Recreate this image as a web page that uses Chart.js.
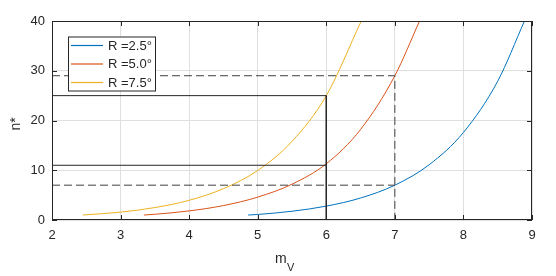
<!DOCTYPE html>
<html>
<head>
<meta charset="utf-8">
<script src="https://cdn.jsdelivr.net/npm/chart.js@4/dist/chart.umd.min.js"></script>
<style>
  html, body { margin: 0; padding: 0; background: #fff; }
  #wrap { width: 556px; height: 276px; position: relative; }
</style>
</head>
<body>
<div id="wrap"><canvas id="chart"></canvas></div>
<script>
// curves (m_V, n*)
const blueM = [4.86, 5.0, 5.5, 6.0, 6.5, 7.0, 7.5, 8.0, 8.5, 8.89];
const blueN = [1.0, 1.11, 1.76, 2.79, 4.42, 7.0, 11.1, 17.6, 27.9, 40];
const redM = [3.34, 3.5, 4.0, 4.5, 5.0, 5.5, 6.0, 6.5, 7.0, 7.36];
const redN = [1.0, 1.15, 1.83, 2.9, 4.6, 7.2, 11.3, 18.2, 29, 40];
const yellowM = [2.45, 3.0, 3.5, 4.0, 4.5, 5.0, 5.5, 6.0, 6.51];
const yellowN = [1.0, 1.58, 2.5, 3.96, 6.3, 9.95, 15.8, 25, 40];

const labels = ['R =2.5°', 'R =5.0°', 'R =7.5°'];
const colors = ['#0072BD', '#D95319', '#EDB120'];

// guide lines
const solidM = [2, 6, 6];
const solidN = [25, 25, 0];
const solid2M = [2, 6];
const solid2N = [11, 11];
const dashM = [2, 7, 7];
const dashN = [29, 29, 0];
const dash2M = [2, 7];
const dash2N = [7, 7];

const xTicks = [2, 3, 4, 5, 6, 7, 8, 9];
const yTicks = [0, 10, 20, 30, 40];

const FONT = 'Liberation Sans, Arial, sans-serif';
const AXC = '#262626';

function pts(xs, ys) {
    return xs.map((x, i) => ({ x: x, y: ys[i] }));
}

function curve(xs, ys, i) {
    return {
        label: labels[i], data: pts(xs, ys), borderColor: colors[i],
        borderWidth: 1, pointRadius: 0, showLine: true, tension: 0.4,
        cubicInterpolationMode: 'monotone', fill: false
    };
}

function guide(xs, ys, dash, c) {
    return {
        label: '', data: pts(xs, ys), borderColor: c, borderWidth: 1,
        borderDash: dash, pointRadius: 0, showLine: true, tension: 0, fill: false
    };
}

// box, inward ticks, axis titles and legend
const decor = {
    id: 'decor',
    afterDraw(chart) {
        const ctx = chart.ctx;
        const a = chart.chartArea;
        const xs = chart.scales.x, ys = chart.scales.y;
        ctx.save();
        ctx.strokeStyle = AXC;
        ctx.lineWidth = 1;
        ctx.strokeRect(Math.round(a.left) + 0.5, Math.round(a.top) + 0.5,
            Math.round(a.right - a.left) - 1, Math.round(a.bottom - a.top) - 1);
        ctx.beginPath();
        xTicks.forEach(v => {
            const px = Math.round(xs.getPixelForValue(v)) + 0.5;
            ctx.moveTo(px, a.bottom); ctx.lineTo(px, a.bottom - 5);
            ctx.moveTo(px, a.top); ctx.lineTo(px, a.top + 5);
        });
        yTicks.forEach(v => {
            const py = Math.round(ys.getPixelForValue(v)) + 0.5;
            ctx.moveTo(a.left, py); ctx.lineTo(a.left + 5, py);
            ctx.moveTo(a.right, py); ctx.lineTo(a.right - 5, py);
        });
        ctx.stroke();

        // x title m_V
        ctx.fillStyle = AXC;
        ctx.textBaseline = 'alphabetic';
        ctx.textAlign = 'left';
        ctx.font = '14px ' + FONT;
        ctx.fillText('m', 275, 263);
        ctx.font = '11px ' + FONT;
        ctx.fillText('V', 287, 270.5);

        // y title n*
        ctx.save();
        ctx.translate(20, 124);
        ctx.rotate(-Math.PI / 2);
        ctx.textAlign = 'center';
        ctx.font = '14px ' + FONT;
        ctx.fillText('n*', 0, 0);
        ctx.restore();

        // legend
        const lx = 68, ly = 36.5, lw = 87, lh = 54;
        ctx.fillStyle = '#fff';
        ctx.fillRect(lx, ly, lw, lh);
        ctx.strokeStyle = AXC;
        ctx.strokeRect(lx + 0.5, ly + 0.5, lw, lh);
        ctx.font = '13px ' + FONT;
        ctx.textBaseline = 'middle';
        labels.forEach((t, i) => {
            const yy = 45.5 + i * 18.5;
            ctx.strokeStyle = colors[i];
            ctx.lineWidth = 1.2;
            ctx.beginPath();
            ctx.moveTo(71, yy); ctx.lineTo(103, yy);
            ctx.stroke();
            ctx.fillStyle = AXC;
            ctx.fillText(t, 108, yy + 0.5);
        });
        ctx.restore();
    }
};

new Chart(document.getElementById('chart'), {
    type: 'scatter',
    data: {
        datasets: [
            guide(solidM, solidN, [], '#262626'),
            guide(solid2M, solid2N, [], '#262626'),
            guide(dashM, dashN, [8, 4], '#404040'),
            guide(dash2M, dash2N, [8, 4], '#404040'),
            curve(blueM, blueN, 0),
            curve(redM, redN, 1),
            curve(yellowM, yellowN, 2)
        ]
    },
    options: {
        responsive: true,
        maintainAspectRatio: false,
        animation: false,
        layout: { padding: { left: 0, right: 24, top: 21, bottom: 0 } },
        plugins: { legend: { display: false }, tooltip: { enabled: false } },
        scales: {
            x: {
                type: 'linear', min: 2, max: 9,
                afterFit: s => { s.height = 56; },
                afterBuildTicks: s => { s.ticks = xTicks.map(v => ({ value: v })); },
                grid: { color: '#dfdfdf', drawTicks: false },
                border: { display: false },
                ticks: { color: AXC, font: { family: FONT, size: 13 }, padding: 8, maxRotation: 0 }
            },
            y: {
                type: 'linear', min: 0, max: 40,
                afterFit: s => { s.width = 52; },
                afterBuildTicks: s => { s.ticks = yTicks.map(v => ({ value: v })); },
                grid: { color: '#dfdfdf', drawTicks: false },
                border: { display: false },
                ticks: { color: AXC, font: { family: FONT, size: 13 }, padding: 7 }
            }
        }
    },
    plugins: [decor]
});
</script>
</body>
</html>
